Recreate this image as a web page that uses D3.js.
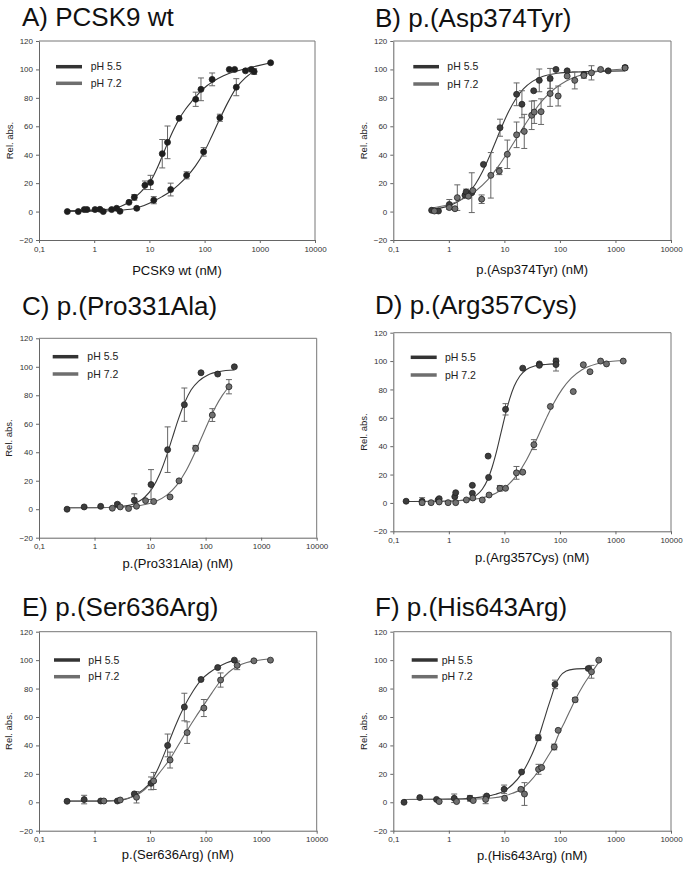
<!DOCTYPE html>
<html><head><meta charset="utf-8">
<script src="https://cdn.jsdelivr.net/npm/d3@7"></script>
<style>
html,body{margin:0;padding:0;background:#fff;}
text{font-family:"Liberation Sans",Arial,sans-serif;}
</style></head>
<body><svg id="chart" width="685" height="869"></svg>
<script>
// ---------- shared labels / ticks ----------
const titles = ["A) PCSK9 wt", "B) p.(Asp374Tyr)", "C) p.(Pro331Ala)", "D) p.(Arg357Cys)", "E) p.(Ser636Arg)", "F) p.(His643Arg)"];
const xLabels = ["PCSK9 wt (nM)", "p.(Asp374Tyr) (nM)", "p.(Pro331Ala) (nM)", "p.(Arg357Cys) (nM)", "p.(Ser636Arg) (nM)", "p.(His643Arg) (nM)"];
const yLabel = "Rel. abs.";
const seriesNames = ["pH 5.5", "pH 7.2"];
const xTickValues = [0.1, 1, 10, 100, 1000, 10000];
const xTickLabels = ["0,1", "1", "10", "100", "1000", "10000"];
const yTickValues = [-20, 0, 20, 40, 60, 80, 100, 120];

// ---------- A) PCSK9 wt ----------
const A55x = [0.326, 0.66, 1.035, 1.27, 2.07, 2.55, 4.27, 5.33, 8.3, 10.5, 17.1, 21.3, 34.4, 69, 86, 137, 280, 350, 550, 700, 1570];
const A55y = [0, 1.4, 1.4, 1.6, 1.4, 2.3, 6.5, 10, 18.5, 20.5, 40.7, 48.7, 65.6, 79, 86, 93, 100, 100, 99, 100, 104.7];
const A55e = [0, 0, 0, 0, 0, 0, 0, 2, 3, 5, 10, 11.5, 0, 5, 8, 4.5, 0, 0, 0, 0, 0];
const A72x = [0.515, 0.74, 1.46, 2.93, 5.9, 12, 24.3, 47.2, 96, 189, 375, 790];
const A72y = [0, 1.4, 0, 0.2, 2.3, 8, 15.5, 25.5, 42, 66, 87.5, 98.5];
const A72e = [0, 0, 0, 0, 1, 2.5, 4.5, 2.5, 3, 2.5, 6, 2];
const A55cx = [0.33, 1, 2, 3, 4.2, 5.3, 8.4, 10.7, 14, 17.1, 21.3, 27, 34.4, 45, 60, 80, 110, 150, 220, 350, 550, 900, 1570];
const A55cy = [0.5, 1, 2, 3.5, 6.5, 9.5, 17, 22, 31, 39, 48, 57, 65, 72, 78, 83.5, 88.5, 92, 95.5, 98.5, 100.5, 102.5, 104.7];
const A72cx = [0.33, 1.1, 2, 3, 5.7, 8, 11.9, 17, 24.3, 34, 47.2, 68, 96, 135, 189, 266, 375, 545, 790];
const A72cy = [0.2, 0.3, 0.6, 1, 2.3, 4.3, 7.3, 10.5, 14.3, 19, 24.4, 32, 41.2, 53, 65.3, 77, 87, 94, 98.8];

// ---------- B) p.(Asp374Tyr) ----------
const B55x = [0.49, 0.65, 1.02, 1.95, 2.05, 2.59, 4.2, 8.35, 16.6, 20.7, 33.7, 42.5, 66.6, 85, 135, 270, 740, 1490];
const B55y = [0.9, 0.4, 5, 11.5, 13.8, 13.3, 33.2, 59, 82.5, 75.5, 85, 92.3, 93.7, 100, 99, 96.5, 99, 101.4];
const B55e = [0, 0, 3.5, 0, 2, 14, 0, 6, 8, 9.5, 0, 8, 7, 0, 0, 0, 0, 1.2];
const B72x = [0.55, 1.02, 1.29, 1.42, 2.25, 2.7, 3.9, 5.7, 8.1, 11.3, 16.6, 22.8, 31, 34.5, 45.8, 66.6, 93, 135, 185, 270, 370, 540, 1490];
const B72y = [0.4, 2.8, 2, 9.8, 10.8, 14.8, 8.7, 25.5, 28.5, 40.3, 54, 56.4, 67.7, 70, 70.3, 83, 81.3, 95.3, 92.3, 95.8, 97.6, 100, 101];
const B72e = [0, 0, 0, 9, 0, 0, 3, 16, 2.5, 10, 9, 12, 10, 8, 9, 9, 7, 0, 6, 2, 5, 0, 0];
const B55cx = [0.47, 1, 2, 3, 4, 5.5, 7, 9, 12, 16, 22, 32, 50, 90, 200, 1490];
const B55cy = [1.5, 4.0, 10.9, 19.2, 27.8, 39.6, 49.5, 59.8, 70.5, 79.2, 86.3, 91.6, 95.2, 97.3, 98.2, 99];
const B72cx = [0.47, 1, 2, 3, 5, 8, 12, 16, 22, 32, 50, 80, 130, 250, 500, 1490];
const B72cy = [2.5, 5.0, 9.8, 14.3, 22.3, 32.5, 42.9, 50.7, 59.4, 69, 78.7, 86.4, 91.9, 96.3, 98.8, 100.3];

// ---------- C) p.(Pro331Ala) ----------
const C55x = [0.32, 0.65, 1.29, 2.58, 5.2, 10.4, 20.7, 41.4, 82.6, 165, 329];
const C55y = [0, 1.6, 2, 3.5, 6.3, 17.3, 41.8, 73.4, 95.8, 94.9, 100];
const C55e = [0, 0, 0, 1, 4.5, 10.5, 16, 11.7, 0, 0, 0];
const C72x = [2.09, 2.9, 4.1, 5.7, 8.3, 11.6, 22.9, 33.2, 66, 132, 263];
const C72y = [0.7, 1.6, 0.5, 2.1, 6, 5.4, 8.6, 19.9, 42.8, 66.1, 86];
const C72e = [0, 0, 0, 0, 0, 0, 0, 0, 2, 4.5, 5];
const C55cx = [0.32, 1, 2, 3, 5, 8, 11, 15, 20, 25, 32, 42, 55, 75, 110, 180, 329];
const C55cy = [1, 1.1, 1.4, 1.9, 3.7, 8.4, 14.8, 24.9, 38, 49.7, 62.7, 74.9, 83.9, 90, 94.3, 96.7, 97.7];
const C72cx = [0.32, 2, 4, 7, 12, 20, 30, 45, 65, 85, 110, 150, 200, 263];
const C72cy = [1, 1.25, 1.7, 2.8, 5.1, 9.9, 16.7, 27.3, 40.1, 50.5, 60.6, 71.6, 79.9, 86];

// ---------- D) p.(Arg357Cys) ----------
const D55x = [0.17, 0.33, 0.64, 0.67, 1.28, 1.33, 2.65, 2.65, 5.1, 5.2, 10.5, 21.4, 42.6, 42.6, 85, 85];
const D55y = [1.2, 1.2, 2.1, 3, 4.4, 7.2, 6.8, 12.4, 33, 18, 66, 95, 98, 97, 100, 97.5];
const D55e = [0, 2.5, 0, 0, 0, 0, 0, 0, 0, 0, 4, 0, 0, 0, 0, 4.5];
const D72x = [0.33, 0.48, 0.67, 0.97, 1.33, 2.07, 2.7, 4.0, 5.3, 8.3, 10.5, 16.5, 21.4, 34, 67.3, 174, 264, 348, 540, 690, 1380];
const D72y = [0.2, 0.2, 0.7, 0.2, 0.2, 2.1, 3.5, 2.1, 5.6, 10.3, 10.3, 21.2, 21.7, 41.1, 68, 78.5, 97.4, 92.5, 100, 98, 100];
const D72e = [0, 0, 0, 0, 0, 0, 0, 0, 0, 2, 0, 4.5, 0, 3.5, 0, 0, 0, 0, 0, 0, 0];
const D55cx = [0.17, 1, 2, 3, 4, 5, 6, 7, 8.7, 10.5, 12.5, 15, 19, 25, 35, 55, 85];
const D55cy = [1, 1.15, 2.2, 4.8, 9.6, 16.5, 25, 34.2, 49.5, 62.8, 73.5, 82.2, 89.5, 94.1, 96.5, 97.6, 98];
const D72cx = [0.32, 1, 2, 4, 7, 11, 17, 25, 35, 45, 60, 80, 110, 160, 250, 450, 800, 1380];
const D72cy = [1.06, 1.3, 1.9, 3.6, 6.8, 11.8, 19.9, 30.3, 41.7, 51, 61.6, 71.3, 80.2, 88, 93.9, 97.9, 99.7, 100.4];

// ---------- E) p.(Ser636Arg) ----------
const E55x = [0.32, 0.65, 1.29, 2.58, 5.2, 10.4, 20.7, 41.4, 82.6, 165, 329];
const E55y = [0.7, 1.9, 0.9, 0.9, 5.9, 13.3, 40, 67, 86.4, 94.8, 100];
const E55e = [0, 3, 0, 0, 0, 4.5, 8, 9.7, 0, 0, 0];
const E72x = [1.47, 2.9, 5.7, 11.6, 22.9, 46.5, 93, 186, 370, 740, 1470];
const E72y = [0.9, 1.6, 3.5, 15, 29.7, 49, 66.3, 86, 96.3, 99.5, 100];
const E72e = [0, 0, 4, 6, 5.6, 7.6, 6, 5, 3, 0, 0];
const E55cx = [0.32, 1, 2, 3, 4, 5.2, 7, 10.4, 14, 20.7, 28, 41.4, 60, 82.6, 120, 165, 240, 329];
const E55cy = [0.8, 0.8, 1, 1.5, 2.7, 4.8, 8, 14.5, 24, 40, 53, 67.5, 78.5, 86, 91.5, 95, 98.2, 100];
const E72cx = [0.32, 1, 2, 3, 4, 5.7, 8, 11.6, 16, 22.9, 32, 46.5, 65, 93, 130, 186, 260, 370, 550, 800, 1470];
const E72cy = [0.8, 0.9, 1.2, 1.8, 2.8, 5, 9, 15.5, 22.5, 30.5, 40, 50.5, 59.5, 68.5, 77, 85.5, 91.5, 95.5, 98.3, 99.7, 100.8];

// ---------- F) p.(His643Arg) ----------
const F55x = [0.156, 0.30, 0.6, 1.25, 2.4, 4.8, 9.9, 20.4, 40.8, 81.6, 325];
const F55y = [0, 3.3, 2, 2.8, 2.8, 4.4, 9.1, 21.3, 45.4, 82.9, 94.1];
const F55e = [0, 0, 0, 3, 2, 0, 3, 0, 2, 3, 1];
const F72x = [0.67, 1.38, 2.75, 4.6, 10.1, 19.8, 23, 41.2, 47, 79, 93, 188, 370, 500];
const F72y = [0.5, 0.5, 1.2, 2, 2.8, 9.1, 5.8, 23.2, 24.4, 38.9, 50.6, 72.1, 91.8, 100];
const F72e = [0, 0, 0, 3, 0, 0, 8, 3.5, 0, 2, 0, 1.5, 4.5, 0];
const F55cx = [0.156, 0.5, 1, 2, 4, 7, 9.9, 14, 20.4, 28, 35, 40.8, 50, 60, 70, 81.6, 100, 130, 180, 325];
const F55cy = [2, 2.1, 2.2, 2.6, 3.8, 5.7, 8, 12.5, 20, 29.5, 38, 45, 56, 66, 74, 82, 88.5, 92.3, 93.7, 94.2];
const F72cx = [0.156, 1, 3, 6, 10, 14, 19.8, 28, 41.2, 60, 79, 93, 120, 150, 188, 260, 370, 500];
const F72cy = [2, 2.1, 2.3, 3, 4.5, 6.3, 9, 14, 22, 32, 40, 47, 56, 64, 72, 82, 91, 98.5];

// ---------- assemble ----------
const panelData = [
  [[A55x, A55y, A55e, A55cx, A55cy], [A72x, A72y, A72e, A72cx, A72cy]],
  [[B55x, B55y, B55e, B55cx, B55cy], [B72x, B72y, B72e, B72cx, B72cy]],
  [[C55x, C55y, C55e, C55cx, C55cy], [C72x, C72y, C72e, C72cx, C72cy]],
  [[D55x, D55y, D55e, D55cx, D55cy], [D72x, D72y, D72e, D72cx, D72cy]],
  [[E55x, E55y, E55e, E55cx, E55cy], [E72x, E72y, E72e, E72cx, E72cy]],
  [[F55x, F55y, F55e, F55cx, F55cy], [F72x, F72y, F72e, F72cx, F72cy]]
];

// layout (pixels) – kept separate from the data
const layout = [
  {l: 39,    t: 41,    r: 315,   b: 240,   tx: 22,  ty: 26,  xl: 275, yl: 12.5, leg: [17, 43, 25.7, 42.3, 51.7]},
  {l: 393.3, t: 41,    r: 671,   b: 240,   tx: 375, ty: 26.5, xl: 274, yl: 366.5, leg: [20, 45.7, 25.7, 43, 54]},
  {l: 39,    t: 338.3, r: 316.7, b: 537.7, tx: 22,  ty: 315, xl: 568, yl: 12,   leg: [13.7, 39.3, 18.4, 35.7, 48.3]},
  {l: 393.3, t: 332.7, r: 671,   b: 531.3, tx: 375, ty: 314, xl: 561.5, yl: 366.5, leg: [17.4, 43.4, 24.6, 42.3, 51.7]},
  {l: 39,    t: 631.7, r: 316.7, b: 830.7, tx: 22,  ty: 616, xl: 859, yl: 12,   leg: [15, 41, 28.3, 45, 49.3]},
  {l: 393.3, t: 631.7, r: 671,   b: 830.7, tx: 375, ty: 616, xl: 860, yl: 366.5, leg: [18.4, 44.4, 28.3, 45, 48.4]}
];
const legendColors = ["#333333", "#6e6e6e"];
const curveColors = ["#3a3a3a", "#6a6a6a"];
const markerFill = [["#1e1e1e", "#1e1e1e"], ["#3c3c3c", "#707070"], ["#3c3c3c", "#707070"], ["#3c3c3c", "#707070"], ["#3c3c3c", "#707070"], ["#3c3c3c", "#707070"]];

const svg = d3.select("#chart");
svg.append("rect").attr("width", 685).attr("height", 869).attr("fill", "#fff");

panelData.forEach((series, pi) => {
  const L = layout[pi];
  const g = svg.append("g");
  const x = d3.scaleLog().domain([0.1, 10000]).range([L.l, L.r]);
  const y = d3.scaleLinear().domain([-20, 120]).range([L.b, L.t]);

  // title
  g.append("text").attr("x", L.tx).attr("y", L.ty).attr("font-size", 26).attr("fill", "#111").text(titles[pi]);

  // frame (top/right)
  g.append("path").attr("d", `M${L.l},${L.t}H${L.r}V${L.b}`).attr("fill", "none").attr("stroke", "#777").attr("stroke-width", 1);

  // axes
  const xa = g.append("g").attr("transform", `translate(0,${L.b})`)
    .call(d3.axisBottom(x).tickValues(xTickValues).tickFormat((d, i) => xTickLabels[i]).tickSizeInner(3).tickSizeOuter(0).tickPadding(3));
  const ya = g.append("g").attr("transform", `translate(${L.l},0)`)
    .call(d3.axisLeft(y).tickValues(yTickValues).tickSizeInner(3).tickSizeOuter(0).tickPadding(3));
  [xa, ya].forEach(a => {
    a.select(".domain").attr("stroke", "#666");
    a.selectAll(".tick line").attr("stroke", "#666");
    a.selectAll(".tick text").attr("font-size", 8).attr("fill", "#333").attr("font-family", '"Liberation Sans",Arial,sans-serif');
  });

  // axis labels
  g.append("text").attr("x", (L.l + L.r) / 2).attr("y", L.xl).attr("text-anchor", "middle")
    .attr("font-size", 13).attr("fill", "#111").text(xLabels[pi]);
  g.append("text").attr("transform", `translate(${L.yl},${(L.t + L.b) / 2}) rotate(-90)`)
    .attr("text-anchor", "middle").attr("font-size", 9.5).attr("fill", "#222").text(yLabel);

  // legend
  seriesNames.forEach((nm, si) => {
    const ly = L.t + (si === 0 ? L.leg[2] : L.leg[3]);
    g.append("line").attr("x1", L.l + L.leg[0]).attr("x2", L.l + L.leg[1]).attr("y1", ly).attr("y2", ly)
      .attr("stroke", legendColors[si]).attr("stroke-width", 3.5);
    g.append("text").attr("x", L.l + L.leg[4]).attr("y", ly).attr("dy", "0.35em")
      .attr("font-size", 10.5).attr("fill", "#222").text(nm);
  });

  const line = d3.line().x(d => x(d[0])).y(d => y(d[1])).curve(d3.curveMonotoneX);

  // curves
  series.forEach((s, si) => {
    const pts = s[3].map((v, i) => [v, s[4][i]]);
    g.append("path").datum(pts).attr("d", line).attr("fill", "none")
      .attr("stroke", pi === 0 ? "#333" : curveColors[si]).attr("stroke-width", 1.1);
  });

  // error bars
  series.forEach((s, si) => {
    const pts = s[0].map((v, i) => ({x: v, y: s[1][i], e: s[2][i]})).filter(d => d.e > 0);
    const eb = g.append("g").attr("stroke", "#666").attr("stroke-width", 1).attr("fill", "none");
    pts.forEach(d => {
      const cx = x(d.x), y1 = y(d.y - d.e), y2 = y(d.y + d.e);
      eb.append("path").attr("d", `M${cx},${y1}V${y2}M${cx - 3},${y1}H${cx + 3}M${cx - 3},${y2}H${cx + 3}`);
    });
  });

  // markers
  series.forEach((s, si) => {
    const pts = s[0].map((v, i) => [v, s[1][i]]);
    g.append("g").selectAll("circle").data(pts).join("circle")
      .attr("cx", d => x(d[0])).attr("cy", d => y(d[1])).attr("r", 3)
      .attr("fill", markerFill[pi][si]).attr("stroke", "#222").attr("stroke-width", 0.8);
  });
});
</script></body></html>
